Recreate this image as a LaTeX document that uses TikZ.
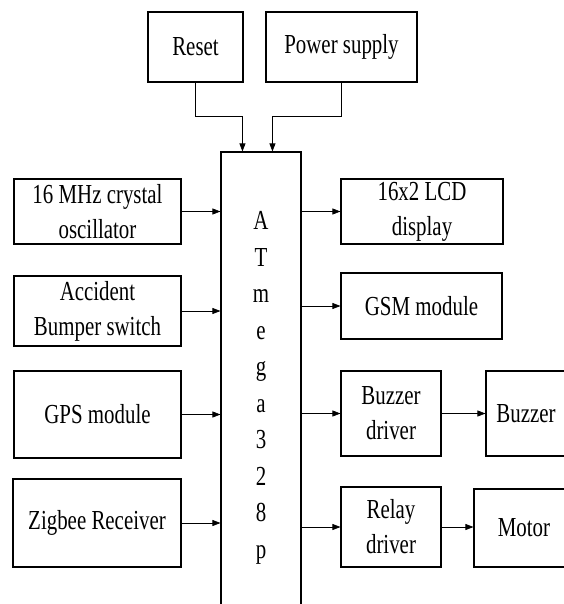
\documentclass[tikz,border=0pt]{standalone}
\usepackage{fontspec}
\setmainfont[FakeStretch=0.76]{Liberation Serif}
\usepackage{tikz}
\usetikzlibrary{arrows.meta}

\begin{document}
\begin{tikzpicture}[x=1pt, y=-1pt,
			block/.style={draw, line width=1.1pt, align=center, inner sep=0pt, font=\fontsize{27.5}{35}\selectfont},
			arr/.style={-{Triangle[length=8pt,width=6pt]}, line width=0.7pt}]
			\useasboundingbox (0,0) rectangle (563,604);
			
			\node[block, minimum width=95pt, minimum height=70pt] (reset) at (195.5,47) {Reset};
			\node[block, minimum width=151pt, minimum height=70pt] (power) at (341.5,47) {Power supply};
			
			\node[block, minimum width=80pt, minimum height=472pt, font=\fontsize{27.5}{36.5}\selectfont] (mcu) at (261,388) {A\\T\\m\\e\\g\\a\\3\\2\\8\\p};
			
			\node[block, minimum width=167pt, minimum height=65pt] (osc) at (97.5,211.5) {16 MHz crystal\\oscillator};
			\node[block, minimum width=167pt, minimum height=70pt] (bumper) at (97.5,311) {Accident\\Bumper switch};
			\node[block, minimum width=167pt, minimum height=87pt] (gps) at (97.5,414.5) {GPS module};
			\node[block, minimum width=168pt, minimum height=88pt] (zigbee) at (97,523) {Zigbee Receiver};
			
			\node[block, minimum width=162pt, minimum height=65pt] (lcd) at (422,211.5) {16x2 LCD\\display};
			\node[block, minimum width=161pt, minimum height=66pt] (gsm) at (421.5,306) {GSM module};
			\node[block, minimum width=100pt, minimum height=85pt] (bdrv) at (391,413.5) {Buzzer\\driver};
			\node[block, minimum width=80pt, minimum height=85pt] (buzzer) at (526,413.5) {Buzzer};
			\node[block, minimum width=100pt, minimum height=80pt] (rdrv) at (391,527) {Relay\\driver};
			\node[block, minimum width=100pt, minimum height=78pt] (motor) at (524,528) {Motor};
			
			\coordinate (rin) at ([xshift=22pt]mcu.north west);
			\coordinate (pin) at ([xshift=52pt]mcu.north west);
			\draw[arr] (reset.south) -- ++(0,34) -| (rin);
			\draw[arr] (power.south) -- ++(0,34) -| (pin);
			
			\foreach \src in {osc, bumper, gps, zigbee}{
				\draw[arr] (\src.east) -- (\src.east -| mcu.west);
			}
			\foreach \dst in {lcd, gsm, bdrv, rdrv}{
				\draw[arr] (\dst.west -| mcu.east) -- (\dst.west);
			}
			\draw[arr] (bdrv.east) -- (buzzer.west);
			\draw[arr] (rdrv.east) -- (rdrv.east -| motor.west);
		\end{tikzpicture}
\end{document}
